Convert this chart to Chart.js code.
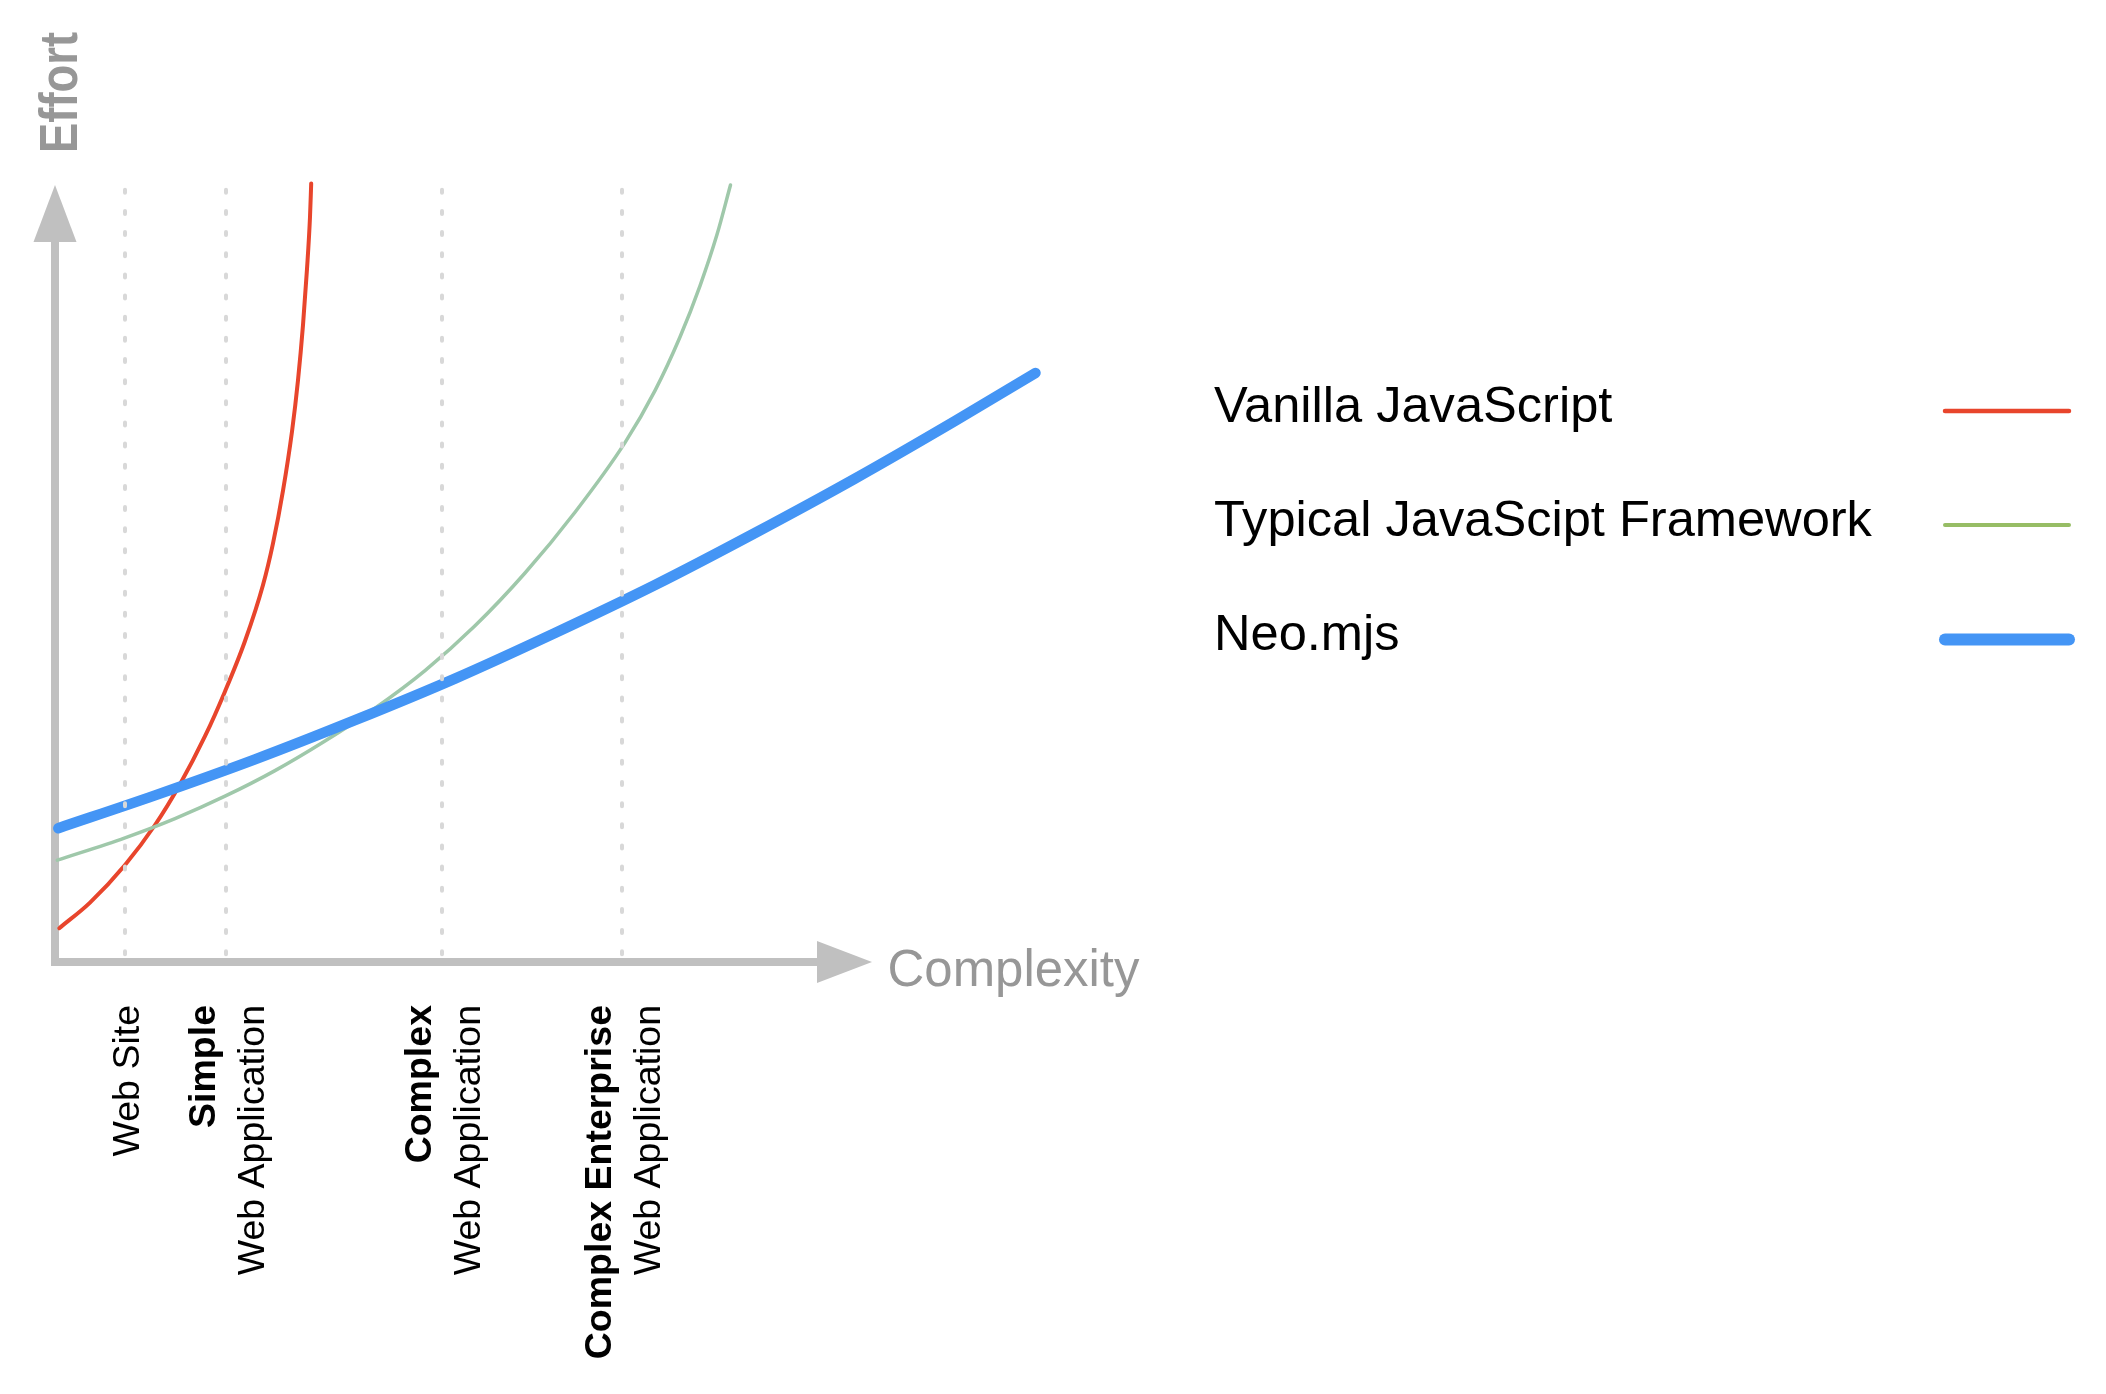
<!DOCTYPE html>
<html>
<head>
<meta charset="utf-8">
<script src="https://cdn.jsdelivr.net/npm/chart.js@4.4.0/dist/chart.umd.min.js"></script>
<style>
  html, body { margin: 0; padding: 0; background: #ffffff; }
  #wrap { width: 2106px; height: 1394px; position: relative; }
</style>
</head>
<body>
<div id="wrap"><canvas id="c"></canvas></div>
<script>
// ---------- data (x = complexity 0..100, y = effort 0..100) ----------
const seriesNames = ['Vanilla JavaScript', 'Typical JavaScipt Framework', 'Neo.mjs'];

const vanillaX = [0.43, 3.5, 7.0, 10.0, 12.5, 15.0, 17.0, 19.0, 20.8, 21.8, 22.8, 23.7, 24.3, 24.8, 25.2, 25.5, 25.62];
const vanillaY = [4.1, 7.3, 12.0, 17.0, 22.1, 28.1, 33.7, 40.0, 47.0, 52.2, 58.8, 66.2, 72.6, 79.5, 86.5, 93.0, 97.2];

const frameworkX = [0.23, 7, 12, 17, 22, 27, 32, 37, 42, 47, 52, 57, 60, 62.5, 64.5, 66.2, 67.55];
const frameworkY = [12.6, 15.4, 17.8, 20.6, 23.8, 27.5, 31.6, 36.3, 41.9, 48.5, 56.1, 64.8, 71.3, 78.0, 84.4, 90.8, 97.0];

const neoX = [0.33, 10, 20, 30, 40, 50, 60, 70, 80, 90, 98.05];
const neoY = [16.6, 20.7, 25.2, 30.1, 35.3, 41.0, 47.0, 53.5, 60.3, 67.5, 73.5];

const categoryPositions = [7.0, 17.1, 38.7, 56.7];
const categoryTitles = ['', 'Simple', 'Complex', 'Complex Enterprise'];
const categorySubtitles = ['Web Site', 'Web Application', 'Web Application', 'Web Application'];

const xAxisTitle = 'Complexity';
const yAxisTitle = 'Effort';

// ---------- helpers ----------
function toPoints(xs, ys) { return xs.map((x, i) => ({ x: x, y: ys[i] })); }

const FONT = '"Liberation Sans", Arial, Helvetica, sans-serif';

function drawText(ctx, text, x, y, opts) {
  ctx.save();
  ctx.translate(x, y);
  if (opts.rotate) ctx.rotate(opts.rotate);
  ctx.font = opts.font;
  ctx.fillStyle = opts.color || '#000';
  ctx.textBaseline = 'alphabetic';
  ctx.textAlign = opts.align || 'left';
  if (opts.width) {
    const w = ctx.measureText(text).width;
    ctx.scale(opts.width / w, 1);
  }
  ctx.fillText(text, 0, 0);
  ctx.restore();
}

// ---------- custom drawing plugin ----------
const decorPlugin = {
  id: 'decor',
  beforeDatasetsDraw(chart) {
    const ctx = chart.ctx;
    const xs = chart.scales.x, ys = chart.scales.y;
    const ox = xs.getPixelForValue(0);
    const oy = ys.getPixelForValue(0) + 1;
    const yTip = ys.getPixelForValue(97);
    const xTip = xs.getPixelForValue(81.7);
    ctx.save();
    ctx.strokeStyle = '#c0c0c0';
    ctx.fillStyle = '#c0c0c0';
    ctx.lineWidth = 8;
    ctx.lineJoin = 'miter';
    ctx.lineCap = 'butt';
    ctx.beginPath();
    ctx.moveTo(ox, yTip + 50);
    ctx.lineTo(ox, oy);
    ctx.lineTo(xTip - 50, oy);
    ctx.stroke();
    // y arrow head
    ctx.beginPath();
    ctx.moveTo(ox, yTip);
    ctx.lineTo(ox - 21.5, yTip + 57);
    ctx.lineTo(ox + 21.5, yTip + 57);
    ctx.closePath();
    ctx.fill();
    // x arrow head
    ctx.beginPath();
    ctx.moveTo(xTip, oy);
    ctx.lineTo(xTip - 55, oy - 21);
    ctx.lineTo(xTip - 55, oy + 21);
    ctx.closePath();
    ctx.fill();
    ctx.restore();
  },
  afterDatasetsDraw(chart) {
    const ctx = chart.ctx;
    const xs = chart.scales.x, ys = chart.scales.y;
    ctx.save();
    ctx.strokeStyle = '#d8d8d8';
    ctx.lineWidth = 4;
    ctx.lineCap = 'round';
    ctx.setLineDash([3, 18.15]);
    categoryPositions.forEach(v => {
      const px = Math.round(xs.getPixelForValue(v));
      ctx.beginPath();
      ctx.moveTo(px, ys.getPixelForValue(96.4));
      ctx.lineTo(px, ys.getPixelForValue(0) - 4);
      ctx.stroke();
    });
    ctx.restore();
  },
  afterDraw(chart) {
    const ctx = chart.ctx;
    const xs = chart.scales.x, ys = chart.scales.y;
    const ox = xs.getPixelForValue(0);
    const oy = ys.getPixelForValue(0) + 1;

    // axis titles
    drawText(ctx, yAxisTitle, ox + 22, ys.getPixelForValue(100) - 8, {
      rotate: -Math.PI / 2, font: 'bold 54px ' + FONT, color: '#979797', width: 121
    });
    drawText(ctx, xAxisTitle, xs.getPixelForValue(83.25), oy + 24, {
      font: '52px ' + FONT, color: '#979797', width: 252
    });

    // category labels (rotated)
    const topY = 1005;
    const gap = 49;
    categoryPositions.forEach((v, i) => {
      const cx = xs.getPixelForValue(v);
      const lines = [];
      if (categoryTitles[i]) lines.push({ t: categoryTitles[i], bold: true });
      lines.push({ t: categorySubtitles[i], bold: false });
      const n = lines.length;
      lines.forEach((ln, k) => {
        const bx = cx - (n - 1) * gap / 2 + k * gap + 13.5;
        drawText(ctx, ln.t, bx, topY, {
          rotate: -Math.PI / 2, align: 'right',
          font: (ln.bold ? 'bold ' : '') + '37.5px ' + FONT, color: '#000'
        });
      });
    });

    // legend
    const lx = 1214, lineX0 = 1945, lineX1 = 2069;
    const baselines = [421.5, 535.5, 650];
    chart.data.datasets.forEach((ds, i) => {
      drawText(ctx, ds.label, lx, baselines[i], { font: '50.6px ' + FONT, color: '#000' });
      ctx.save();
      ctx.strokeStyle = ds.legendColor;
      ctx.lineWidth = ds.legendWidth;
      ctx.lineCap = 'round';
      ctx.beginPath();
      ctx.moveTo(lineX0, baselines[i] - 10.5);
      ctx.lineTo(lineX1, baselines[i] - 10.5);
      ctx.stroke();
      ctx.restore();
    });
  }
};

const chart = new Chart(document.getElementById('c'), {
  type: 'line',
  data: {
    datasets: [
      {
        label: seriesNames[0],
        data: toPoints(vanillaX, vanillaY),
        borderColor: '#e8452c',
        legendColor: '#e8452c',
        legendWidth: 4.5,
        borderWidth: 4,
        order: 2
      },
      {
        label: seriesNames[1],
        data: toPoints(frameworkX, frameworkY),
        borderColor: '#9fc8aa',
        legendColor: '#97bd65',
        legendWidth: 4,
        borderWidth: 3.5,
        order: 1
      },
      {
        label: seriesNames[2],
        data: toPoints(neoX, neoY),
        borderColor: '#4495f5',
        legendColor: '#4495f5',
        legendWidth: 12,
        borderWidth: 10.5,
        order: 0
      }
    ]
  },
  options: {
    responsive: true,
    maintainAspectRatio: false,
    animation: false,
    devicePixelRatio: 1,
    layout: { padding: { left: 55, top: 161, right: 1051, bottom: 433 } },
    elements: {
      point: { radius: 0, hoverRadius: 0 },
      line: { cubicInterpolationMode: 'monotone', borderCapStyle: 'round', borderJoinStyle: 'round', fill: false }
    },
    scales: {
      x: { type: 'linear', min: 0, max: 100, display: false },
      y: { type: 'linear', min: 0, max: 100, display: false }
    },
    plugins: {
      legend: { display: false },
      tooltip: { enabled: false },
      title: { display: false }
    },
    clip: false
  },
  plugins: [decorPlugin]
});
</script>
</body>
</html>
